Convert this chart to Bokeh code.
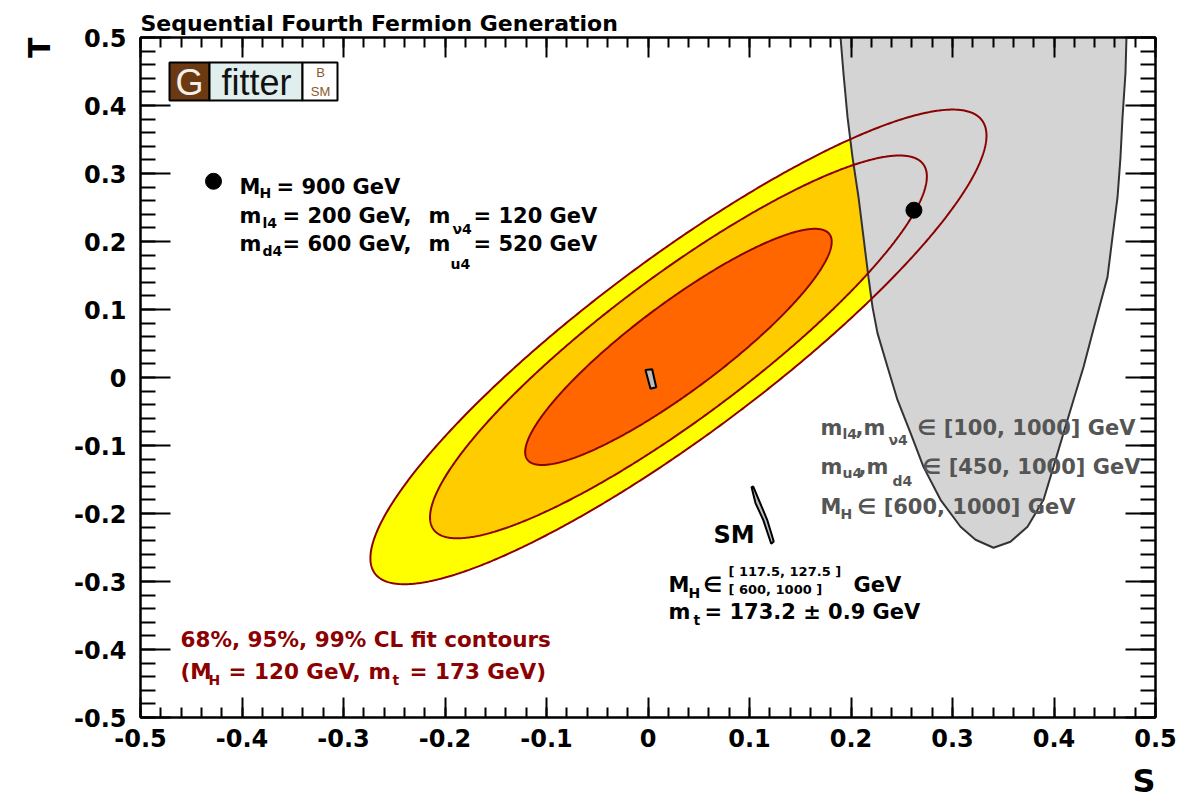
import numpy as np
from bokeh.plotting import figure
from bokeh.models import Label, LinearAxis, FixedTicker, Title
from bokeh.embed import file_html
from bokeh.resources import INLINE

# ---------------- data ----------------
x_ticks = [-0.5, -0.4, -0.3, -0.2, -0.1, 0.0, 0.1, 0.2, 0.3, 0.4, 0.5]
x_tick_labels = ["-0.5", "-0.4", "-0.3", "-0.2", "-0.1", "0", "0.1", "0.2", "0.3", "0.4", "0.5"]
y_ticks = [-0.5, -0.4, -0.3, -0.2, -0.1, 0.0, 0.1, 0.2, 0.3, 0.4, 0.5]
y_tick_labels = ["-0.5", "-0.4", "-0.3", "-0.2", "-0.1", "0", "0.1", "0.2", "0.3", "0.4", "0.5"]

# electroweak fit result in the (S, T) plane (Gaussian approximation)
fit_S0 = 0.03
fit_T0 = 0.045
fit_sigma_S = 0.100
fit_sigma_T = 0.115
fit_rho = 0.89
cl_names = ["99%", "95%", "68%"]
cl_dchi2 = [9.21, 5.99, 2.28]
cl_fill = ["#ffff00", "#ffcc00", "#ff6600"]

# region allowed by a sequential fourth generation (boundary)
sm4_S = [0.1897, 0.1926, 0.1966, 0.2015, 0.2074, 0.2123, 0.2172, 0.2212, 0.2261, 0.2360,
         0.2458, 0.2586, 0.2714, 0.2882, 0.3079, 0.3227, 0.3404,
         0.3571, 0.3739, 0.3897, 0.3995, 0.4094, 0.4192, 0.4291, 0.4379, 0.4458,
         0.4527, 0.4576, 0.4626, 0.4655, 0.4675, 0.4704, 0.4714]
sm4_T = [0.5000, 0.4471, 0.3825, 0.3238, 0.2651, 0.2063, 0.1476, 0.1035, 0.0653, 0.0154,
         -0.0330, -0.0815, -0.1314, -0.1799, -0.2195, -0.2386, -0.2504,
         -0.2416, -0.2195, -0.1799, -0.1314, -0.0815, -0.0330, 0.0154, 0.0653, 0.1094,
         0.1476, 0.2063, 0.2651, 0.3238, 0.3825, 0.4471, 0.5000]

# example 4th generation point (MH = 900 GeV, ...)
pt_S = [0.262]
pt_T = [0.246]

# SM prediction, MH in [117.5, 127.5] GeV
smlight_S = [-0.0025, 0.0041, 0.0081, 0.0025]
smlight_T = [0.0110, 0.0120, -0.0144, -0.0165]
# SM prediction, MH in [600, 1000] GeV
smheavy_S = [0.1020, 0.1059, 0.1135, 0.1214, 0.1239, 0.1174, 0.1099, 0.1037]
smheavy_T = [-0.1612, -0.1847, -0.2093, -0.2445, -0.2411, -0.2093, -0.1824, -0.1604]

# ---------------- layout helpers ----------------
W, H = 1179, 810
FL, FR, FT, FB = 140, 1155, 37, 718   # frame edges in page pixels
FONT = "DejaVu Sans"


def to_data(xp, yp):
    return (xp - FL) / (FR - FL) - 0.5, 0.5 - (yp - FT) / (FB - FT)


p = figure(width=W, height=H, x_range=(-0.5, 0.5), y_range=(-0.5, 0.5),
           output_backend="svg", toolbar_location=None,
           min_border_left=FL, min_border_right=W - FR,
           min_border_top=FT, min_border_bottom=H - FB)
p.grid.visible = False
p.outline_line_color = "black"
p.outline_line_width = 2
p.background_fill_color = "white"
p.border_fill_color = "white"

bottom_ax = p.below[0]
left_ax = p.left[0]
above_ax = LinearAxis()
right_ax = LinearAxis()
p.add_layout(above_ax, "above")
p.add_layout(right_ax, "right")

x_minor = [round(-0.5 + 0.02 * i, 2) for i in range(51)]
y_minor = list(x_minor)

for ax, ticks, labels, minor, tin, min_in, show in [
        (bottom_ax, x_ticks, x_tick_labels, x_minor, 20, 10, True),
        (above_ax, x_ticks, x_tick_labels, x_minor, 20, 10, False),
        (left_ax, y_ticks, y_tick_labels, y_minor, 30, 15, True),
        (right_ax, y_ticks, y_tick_labels, y_minor, 30, 15, False)]:
    ax.ticker = FixedTicker(ticks=ticks, minor_ticks=minor)
    if show:
        ax.major_label_overrides = {t: l for t, l in zip(ticks, labels)}
    else:
        ax.major_label_overrides = {t: "" for t in ticks}
        ax.major_label_standoff = 0
    ax.major_tick_in = tin
    ax.major_tick_out = 0
    ax.minor_tick_in = min_in
    ax.minor_tick_out = 0
    ax.major_tick_line_width = 2
    ax.minor_tick_line_width = 2
    ax.axis_line_width = 2
    ax.major_label_text_font = FONT
    ax.major_label_text_font_style = "bold"
    ax.major_label_text_color = "black"
    ax.major_label_text_font_size = "24px"
bottom_ax.major_label_standoff = 11
left_ax.major_label_standoff = 14

# titles (outside the frame)
p.title.text = "Sequential Fourth Fermion Generation"
p.title.align = "left"
p.title.text_font = FONT
p.title.text_font_style = "bold"
p.title.text_font_size = "22px"
p.title.text_color = "black"
p.title.standoff = 4
p.title.offset = 0

t_title = Title(text="T", align="right", text_font=FONT, text_font_style="bold",
                text_font_size="30px", text_color="black", standoff=30)
p.add_layout(t_title, "left")
s_title = Title(text="S", align="right", text_font=FONT, text_font_style="bold",
                text_font_size="32px", text_color="black", standoff=21)
p.add_layout(s_title, "below")

# ---------------- contours ----------------
theta = np.linspace(0.0, 2.0 * np.pi, 721)


def ellipse(k):
    r = np.sqrt(k)
    s = fit_S0 + r * fit_sigma_S * np.cos(theta)
    t = fit_T0 + r * fit_sigma_T * (fit_rho * np.cos(theta) + np.sqrt(1 - fit_rho ** 2) * np.sin(theta))
    return s, t


for k, c in zip(cl_dchi2, cl_fill):
    s, t = ellipse(k)
    p.patch(s, t, fill_color=c, line_color=None)

p.patch(sm4_S, sm4_T, fill_color="#d4d4d4", line_color="#333333", line_width=2)

for k in cl_dchi2:
    s, t = ellipse(k)
    p.line(s, t, line_color="#8b0000", line_width=2)

p.patch(smlight_S, smlight_T, fill_color="#bdbdbd", line_color="black", line_width=2)
p.patch(smheavy_S, smheavy_T, fill_color="#bdbdbd", line_color="black", line_width=2)

p.scatter(pt_S, pt_T, size=16, color="black")

# legend marker
lx, ly = to_data(213, 181)
p.scatter([lx], [ly], size=16, color="black")

# ---------------- texts ----------------


def txt(xp, yp, s, size=21, color="black", font=FONT, style="bold",
        align="left", baseline="alphabetic"):
    x, y = to_data(xp, yp)
    p.add_layout(Label(x=x, y=y, text=s, text_font=font, text_font_style=style,
                       text_font_size=f"{size}px", text_color=color,
                       text_align=align, text_baseline=baseline))


SUB = 14
# block A
txt(239, 187, "M"); txt(259, 193, "H", size=SUB); txt(276, 187, "= 900 GeV")
txt(239, 216, "m"); txt(262, 223, "l4", size=SUB); txt(282, 216, "= 200 GeV,")
txt(428, 216, "m"); txt(452, 229, "ν4", size=SUB); txt(473, 216, "= 120 GeV")
txt(239, 244, "m"); txt(262, 251, "d4", size=SUB); txt(282, 244, "= 600 GeV,")
txt(428, 244, "m"); txt(450, 264, "u4", size=SUB); txt(473, 244, "= 520 GeV")

# block B (grey)
G = "#555555"
txt(820, 428, "m", color=G); txt(842, 434, "l4", size=SUB, color=G); txt(855, 428, ",m", color=G)
txt(888, 440, "ν4", size=SUB, color=G); txt(917, 428, "∈ [100, 1000] GeV", color=G)
txt(820, 467, "m", color=G); txt(842, 473, "u4", size=SUB, color=G); txt(858, 467, ",m", color=G)
txt(892, 481, "d4", size=SUB, color=G); txt(922, 467, "∈ [450, 1000] GeV", color=G)
txt(820, 507, "M", color=G); txt(840, 514, "H", size=SUB, color=G); txt(857, 507, "∈ [600, 1000] GeV", color=G)

# block C (SM)
txt(713, 535, "SM", size=24)
txt(668, 585, "M"); txt(688, 593, "H", size=SUB); txt(703, 585, "∈")
txt(728, 572, "[ 117.5, 127.5 ]", size=13); txt(728, 590, "[ 600, 1000 ]", size=13)
txt(853, 585, "GeV")
txt(668, 612, "m"); txt(693, 620, "t", size=SUB); txt(704, 612, "= 173.2 ± 0.9 GeV")

# block D (dark red)
R = "#8b0000"
txt(180, 640, "68%, 95%, 99% CL fit contours", size=21.5, color=R)
txt(180, 672, "(M", size=21.5, color=R); txt(208, 680, "H", size=SUB, color=R)
txt(228, 672, "= 120 GeV,", size=21.5, color=R)
txt(368, 672, "m", size=21.5, color=R); txt(392, 680, "t", size=SUB, color=R)
txt(409, 672, "= 173 GeV)", size=21.5, color=R)

# Gfitter logo
logo_boxes = [(169, 209, "#6b3a12"), (209, 302, "#e0eeee"), (302, 337, "white")]
for x0, x1, c in logo_boxes:
    l, t = to_data(x0, 62)
    r, b = to_data(x1, 100)
    p.quad(left=[l], right=[r], top=[t], bottom=[b], fill_color=c, line_color="black", line_width=2)
txt(189, 82, "G", size=36, color="#f4f0ea", font="Liberation Sans", style="normal", align="center", baseline="middle")
txt(256, 82, "fitter", size=36, color="#111111", font="Liberation Sans", style="normal", align="center", baseline="middle")
txt(320, 72, "B", size=13, color="#8b5a2b", font="Liberation Sans", style="normal", align="center", baseline="middle")
txt(320, 91, "SM", size=13, color="#8b5a2b", font="Liberation Sans", style="normal", align="center", baseline="middle")

open("out.html", "w").write(file_html(p, INLINE))
